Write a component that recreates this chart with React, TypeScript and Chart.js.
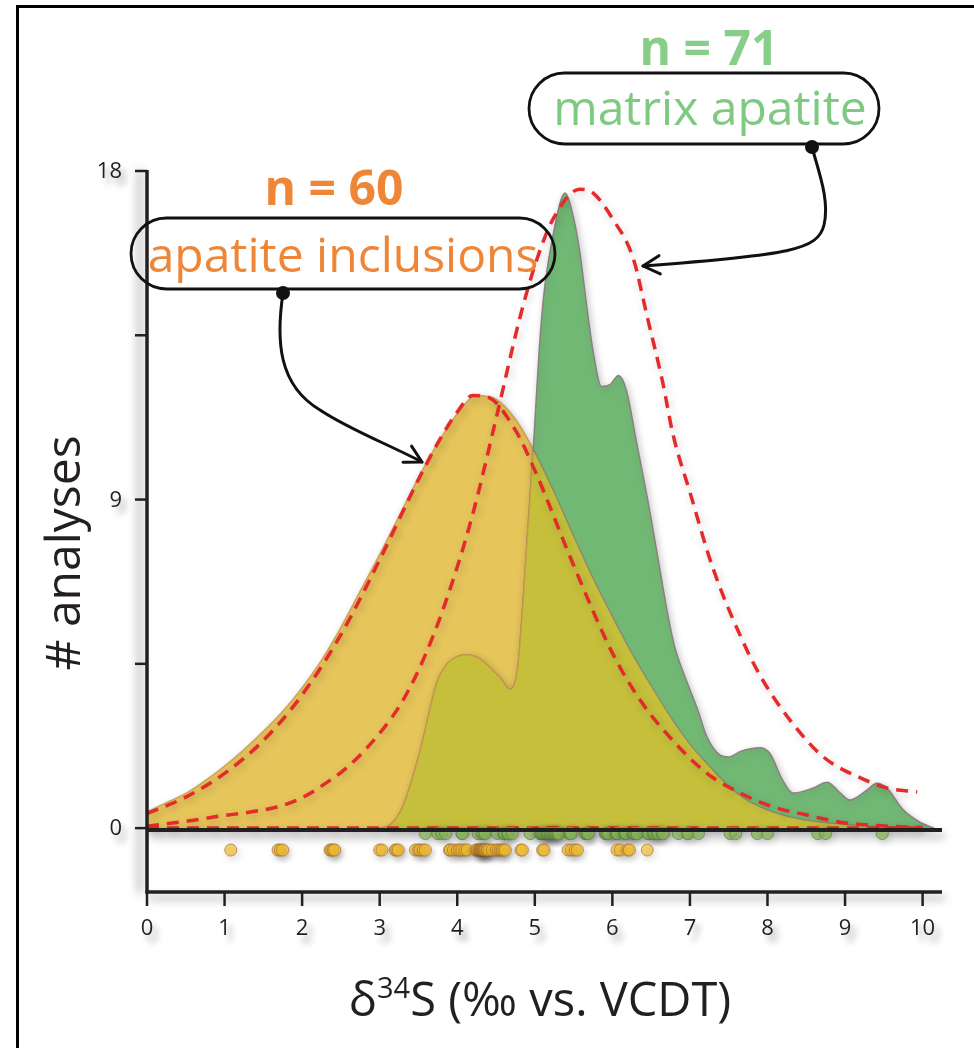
import React, { useEffect, useRef } from 'react';
import { Chart, registerables } from 'chart.js';

Chart.register(...registerables);

const W = 974;
const H = 1048;
const FONT = '"Open Sans", "Noto Sans", sans-serif';
const INK = '#231f20';
const RED = '#e42a2a';
const YELLOW = '#e6c55b';
const GREEN = '#72b875';
const OLIVE = '#c5bf3c';
const ORANGE = '#ef8536';
const LIGHT_GREEN = '#88cd88';

// axis ranges
const X_MIN = 0;
const X_MAX = 10.25;
const Y_MIN = -1.75;
const Y_MAX = 18;
const xTicks = [0, 1, 2, 3, 4, 5, 6, 7, 8, 9, 10];
const xTickLabels = ['0', '1', '2', '3', '4', '5', '6', '7', '8', '9', '10'];
const yTicks = [0, 4.5, 9, 13.5, 18];
const yTickLabels = ['0', '', '9', '', '18'];

// kernel density of the apatite inclusions (δ34S, ‰)
const inclusionX = [0, 0.25, 0.5, 0.75, 1, 1.25, 1.5, 1.75, 2, 2.25, 2.5, 2.75, 3, 3.25, 3.5, 3.75, 4, 4.25, 4.5, 4.75, 5, 5.25, 5.5, 5.75, 6, 6.25, 6.5, 6.75, 7, 7.25, 7.5, 7.75, 8, 8.25, 8.5, 8.75, 9, 9.25, 9.5, 9.75, 10];
const inclusionDensity = [0.45, 0.7, 0.95, 1.3, 1.7, 2.15, 2.65, 3.2, 3.85, 4.6, 5.5, 6.5, 7.5, 8.55, 9.6, 10.55, 11.35, 11.85, 11.75, 11.2, 10.3, 9.2, 8.0, 6.85, 5.8, 4.8, 3.9, 3.05, 2.3, 1.7, 1.15, 0.75, 0.5, 0.33, 0.22, 0.15, 0.1, 0.06, 0.03, 0.01, 0];

// kernel density of the matrix apatite
const matrixX = [3.0, 3.13, 3.3, 3.52, 3.74, 3.87, 4.0, 4.13, 4.28, 4.42, 4.56, 4.68, 4.78, 4.85, 4.92, 4.98, 5.05, 5.11, 5.24, 5.39, 5.48, 5.58, 5.67, 5.75, 5.86, 5.97, 6.08, 6.18, 6.31, 6.49, 6.62, 6.72, 6.8, 6.9, 7.0, 7.1, 7.22, 7.39, 7.5, 7.65, 7.9, 8.03, 8.2, 8.33, 8.59, 8.77, 8.94, 9.06, 9.28, 9.41, 9.54, 9.75, 9.97, 10.15];
const matrixDensity = [0, 0.08, 0.6, 2.1, 4.0, 4.5, 4.7, 4.75, 4.65, 4.4, 4.1, 3.8, 4.4, 6.25, 8.5, 10.4, 12.9, 14.5, 16.3, 17.4, 16.9, 15.8, 14.3, 13.1, 12.1, 12.15, 12.4, 12.0, 10.6, 8.6, 7.0, 5.8, 5.0, 4.35, 3.8, 3.25, 2.5, 2.0, 1.95, 2.1, 2.2, 2.05, 1.3, 0.96, 1.1, 1.26, 0.96, 0.77, 1.04, 1.23, 1.1, 0.5, 0.16, 0];

// fitted distributions (dashed)
const inclusionFitX = [0, 0.5, 1, 1.5, 2, 2.5, 3, 3.5, 3.75, 4, 4.2, 4.4, 4.75, 5, 5.5, 6, 6.36, 6.78, 7.22, 7.65, 8.07, 8.51, 8.94, 9.5, 10];
const inclusionFit = [0.4, 0.85, 1.5, 2.4, 3.65, 5.3, 7.35, 9.55, 10.55, 11.4, 11.85, 11.8, 10.9, 9.8, 7.2, 4.8, 3.5, 2.4, 1.5, 0.96, 0.58, 0.36, 0.16, 0.06, 0.02];
const matrixFitX = [0, 0.55, 0.94, 1.33, 1.68, 1.97, 2.27, 2.6, 3.0, 3.3, 3.6, 3.9, 4.2, 4.51, 4.81, 5.03, 5.24, 5.58, 5.75, 6.0, 6.27, 6.45, 6.65, 6.78, 7.0, 7.3, 7.73, 7.94, 8.29, 8.72, 9.28, 9.54, 9.93];
const matrixFit = [0.05, 0.2, 0.33, 0.44, 0.58, 0.8, 1.18, 1.7, 2.6, 3.5, 4.8, 6.5, 8.6, 11.3, 14.0, 15.6, 16.7, 17.5, 17.4, 16.7, 15.6, 14.0, 12.2, 10.8, 9.2, 7.1, 4.9, 4.05, 2.96, 1.95, 1.3, 1.1, 0.99];

// individual analyses (δ34S, ‰)
const inclusionAnalyses = [1.08, 1.69, 1.72, 1.75, 2.36, 2.38, 2.4, 2.42, 3.0, 3.03, 3.2, 3.22, 3.24, 3.46, 3.5, 3.52, 3.56, 3.59, 3.9, 3.91, 3.95, 4.0, 4.03, 4.06, 4.1, 4.13, 4.24, 4.26, 4.28, 4.3, 4.3, 4.31, 4.32, 4.33, 4.34, 4.35, 4.36, 4.38, 4.39, 4.41, 4.45, 4.5, 4.53, 4.56, 4.58, 4.6, 4.62, 4.82, 4.84, 5.1, 5.12, 5.43, 5.47, 5.52, 5.55, 6.06, 6.1, 6.2, 6.22, 6.45];
const matrixAnalyses = [3.59, 3.75, 3.8, 3.85, 4.06, 4.07, 4.27, 4.32, 4.35, 4.36, 4.52, 4.6, 4.61, 4.65, 4.66, 4.71, 4.94, 5.07, 5.08, 5.1, 5.12, 5.15, 5.16, 5.18, 5.2, 5.22, 5.24, 5.26, 5.28, 5.3, 5.31, 5.45, 5.46, 5.47, 5.65, 5.66, 5.68, 5.69, 5.91, 5.92, 5.94, 5.95, 6.05, 6.06, 6.07, 6.16, 6.17, 6.18, 6.27, 6.28, 6.31, 6.32, 6.46, 6.47, 6.53, 6.54, 6.58, 6.59, 6.65, 6.66, 6.85, 6.97, 6.98, 7.11, 7.52, 7.59, 7.87, 8.0, 8.65, 8.75, 9.48];

// rug rows below the zero line
const MATRIX_ROW = -0.15;
const INCLUSION_ROW = -0.6;

const YELLOW_IDX = 0;
const GREEN_IDX = 1;

const pts = (xs: number[], ys: number[]) => xs.map((x, i) => ({ x, y: ys[i] }));

function areaPath(ctx: CanvasRenderingContext2D, line: any, y0: number) {
  const p = line.points;
  ctx.beginPath();
  if (typeof line.path === 'function') {
    line.path(ctx);
  } else {
    p.forEach((q: any, i: number) => (i ? ctx.lineTo(q.x, q.y) : ctx.moveTo(q.x, q.y)));
  }
  ctx.lineTo(p[p.length - 1].x, y0);
  ctx.lineTo(p[0].x, y0);
  ctx.closePath();
}

function linePath(ctx: CanvasRenderingContext2D, line: any) {
  ctx.beginPath();
  if (typeof line.path === 'function') line.path(ctx);
}

function shadowed(ctx: CanvasRenderingContext2D, color: string, blur: number, ox: number, oy: number, draw: () => void) {
  ctx.save();
  ctx.shadowColor = color;
  ctx.shadowBlur = blur;
  ctx.shadowOffsetX = ox;
  ctx.shadowOffsetY = oy;
  draw();
  ctx.restore();
}

function seg(ctx: CanvasRenderingContext2D, x1: number, y1: number, x2: number, y2: number, w: number) {
  ctx.lineWidth = w;
  ctx.beginPath();
  ctx.moveTo(x1, y1);
  ctx.lineTo(x2, y2);
  ctx.stroke();
}

function pill(ctx: CanvasRenderingContext2D, x: number, y: number, w: number, h: number) {
  const r = h / 2;
  ctx.beginPath();
  ctx.moveTo(x + r, y);
  ctx.lineTo(x + w - r, y);
  ctx.arc(x + w - r, y + r, r, -Math.PI / 2, Math.PI / 2);
  ctx.lineTo(x + r, y + h);
  ctx.arc(x + r, y + r, r, Math.PI / 2, (Math.PI * 3) / 2);
  ctx.closePath();
  ctx.stroke();
}

// leader line: start point followed by cubic bezier triples, ending in an open arrowhead
function leader(ctx: CanvasRenderingContext2D, path: number[][]) {
  const [s, ...rest] = path;
  ctx.lineWidth = 3;
  ctx.lineCap = 'round';
  ctx.lineJoin = 'round';
  ctx.beginPath();
  ctx.moveTo(s[0], s[1]);
  for (let i = 0; i < rest.length; i += 3) {
    ctx.bezierCurveTo(rest[i][0], rest[i][1], rest[i + 1][0], rest[i + 1][1], rest[i + 2][0], rest[i + 2][1]);
  }
  ctx.stroke();
  const e = rest[rest.length - 1];
  const c = rest[rest.length - 2];
  const a = Math.atan2(e[1] - c[1], e[0] - c[0]);
  const L = 19;
  ctx.beginPath();
  ctx.moveTo(e[0] - L * Math.cos(a - 0.5), e[1] - L * Math.sin(a - 0.5));
  ctx.lineTo(e[0], e[1]);
  ctx.lineTo(e[0] - L * Math.cos(a + 0.5), e[1] - L * Math.sin(a + 0.5));
  ctx.stroke();
  ctx.beginPath();
  ctx.arc(s[0], s[1], 7, 0, Math.PI * 2);
  ctx.fill();
}

const overlapPlugin = {
  id: 'overlap',
  beforeDatasetsDraw(chart: any) {
    const ctx = chart.ctx;
    ctx.save();
    ctx.shadowColor = 'rgba(0,0,0,0.22)';
    ctx.shadowBlur = 9;
    ctx.shadowOffsetX = 2;
    ctx.shadowOffsetY = 3;
  },
  afterDatasetsDraw(chart: any) {
    chart.ctx.restore();
  },
  afterDatasetDraw(chart: any, args: any) {
    if (args.index !== GREEN_IDX) return;
    const ctx = chart.ctx;
    const y0 = chart.scales.y.getPixelForValue(0);
    const yl = chart.getDatasetMeta(YELLOW_IDX).dataset;
    const gl = chart.getDatasetMeta(GREEN_IDX).dataset;
    ctx.save();
    ctx.shadowColor = 'rgba(0,0,0,0)';
    ctx.shadowBlur = 0;
    areaPath(ctx, yl, y0);
    ctx.clip();
    areaPath(ctx, gl, y0);
    ctx.fillStyle = OLIVE;
    ctx.fill();
    ctx.strokeStyle = 'rgba(205,150,70,0.75)';
    ctx.lineWidth = 1.4;
    linePath(ctx, gl);
    ctx.stroke();
    ctx.restore();
    ctx.save();
    ctx.shadowColor = 'rgba(0,0,0,0)';
    areaPath(ctx, gl, y0);
    ctx.clip();
    ctx.strokeStyle = 'rgba(140,125,110,0.8)';
    ctx.lineWidth = 1.4;
    linePath(ctx, yl);
    ctx.stroke();
    ctx.restore();
  },
  afterDraw(chart: any) {
    const ctx: CanvasRenderingContext2D = chart.ctx;
    const { left, right, bottom } = chart.chartArea;
    const xs = chart.scales.x;
    const ys = chart.scales.y;
    const yTop = ys.getPixelForValue(Y_MAX);
    const y0 = ys.getPixelForValue(0);

    ctx.save();
    ctx.strokeStyle = INK;
    ctx.fillStyle = INK;
    ctx.lineCap = 'butt';

    // axes
    shadowed(ctx, 'rgba(0,0,0,0.42)', 10, -7, 0, () => seg(ctx, left, yTop - 1, left, bottom + 1.5, 3.5));
    shadowed(ctx, 'rgba(0,0,0,0.35)', 8, 3, 6, () => seg(ctx, left - 1.5, bottom, right, bottom, 3.5));
    shadowed(ctx, 'rgba(0,0,0,0.35)', 8, 3, 6, () => seg(ctx, left, y0 + 2, right, y0 + 2, 4));

    // ticks and labels
    ctx.font = `22px ${FONT}`;
    yTicks.forEach((v, i) => {
      const py = ys.getPixelForValue(v);
      seg(ctx, left - 12, py, left, py, 2.5);
      if (yTickLabels[i]) {
        shadowed(ctx, 'rgba(0,0,0,0.35)', 6, 5, 7, () => {
          ctx.textAlign = 'right';
          ctx.textBaseline = 'middle';
          ctx.fillText(yTickLabels[i], left - 25, py + 1);
        });
      }
    });
    xTicks.forEach((v, i) => {
      const px = xs.getPixelForValue(v);
      seg(ctx, px, bottom, px, bottom + 14, 2.5);
      shadowed(ctx, 'rgba(0,0,0,0.35)', 6, 5, 7, () => {
        ctx.textAlign = 'center';
        ctx.textBaseline = 'alphabetic';
        ctx.fillText(xTickLabels[i], px, bottom + 43);
      });
    });

    // axis titles
    ctx.save();
    ctx.font = `48px ${FONT}`;
    ctx.textAlign = 'center';
    ctx.textBaseline = 'alphabetic';
    ctx.translate(80, 553);
    ctx.rotate(-Math.PI / 2);
    ctx.fillText('# analyses', 0, 0);
    ctx.restore();

    const big = `47px ${FONT}`;
    const small = `29px ${FONT}`;
    const parts: [string, string, number][] = [['δ', big, 0], ['34', small, -18], ['S (‰ vs. VCDT)', big, 0]];
    let total = 0;
    parts.forEach(([t, f]) => { ctx.font = f; total += ctx.measureText(t).width; });
    let cx = 540 - total / 2;
    ctx.textAlign = 'left';
    parts.forEach(([t, f, dy]) => {
      ctx.font = f;
      ctx.fillText(t, cx, 1016 + dy);
      cx += ctx.measureText(t).width;
    });

    // frame
    ctx.strokeStyle = '#000';
    ctx.lineWidth = 3;
    ctx.beginPath();
    ctx.moveTo(17.5, H);
    ctx.lineTo(17.5, 6.5);
    ctx.lineTo(W, 6.5);
    ctx.stroke();

    // labels with counts
    ctx.textAlign = 'center';
    ctx.font = `bold 48px ${FONT}`;
    ctx.fillStyle = LIGHT_GREEN;
    ctx.fillText(`n = ${matrixAnalyses.length}`, 709, 65);
    ctx.fillStyle = ORANGE;
    ctx.fillText(`n = ${inclusionAnalyses.length}`, 334, 205);

    ctx.font = `48px ${FONT}`;
    ctx.fillStyle = '#80c983';
    ctx.fillText('matrix apatite', 710, 125);
    ctx.fillStyle = ORANGE;
    ctx.fillText('apatite inclusions', 343, 272);

    ctx.strokeStyle = '#111';
    ctx.fillStyle = '#111';
    ctx.lineWidth = 2.8;
    pill(ctx, 529, 73, 350, 71);
    pill(ctx, 131, 218, 424, 71);

    leader(ctx, [[812, 147], [818, 170], [830, 200], [824, 225], [818, 250], [790, 255], [643, 266]]);
    leader(ctx, [[283, 293], [276, 340], [278, 385], [320, 410], [350, 430], [390, 445], [422, 462]]);

    ctx.restore();
  },
};

export default function App() {
  const ref = useRef<HTMLCanvasElement>(null);

  useEffect(() => {
    const canvas = ref.current;
    if (!canvas) return;
    const fitStart = Math.min(inclusionFitX[0], matrixFitX[0]);
    const fitEnd = Math.max(inclusionFitX[inclusionFitX.length - 1], matrixFitX[matrixFitX.length - 1]);
    const dashed = {
      borderColor: RED,
      borderWidth: 3.5,
      borderDash: [12, 8],
      fill: false,
      pointRadius: 0,
    };
    const chart = new Chart(canvas, {
      type: 'line',
      data: {
        datasets: [
          {
            label: 'apatite inclusions',
            data: pts(inclusionX, inclusionDensity),
            backgroundColor: YELLOW,
            borderColor: 'rgba(205,150,70,0.8)',
            borderWidth: 1.4,
            fill: 'origin',
            pointRadius: 0,
            cubicInterpolationMode: 'monotone',
            order: 10,
          },
          {
            label: 'matrix apatite',
            data: pts(matrixX, matrixDensity),
            backgroundColor: GREEN,
            borderColor: 'rgba(140,118,125,0.9)',
            borderWidth: 1.4,
            fill: 'origin',
            pointRadius: 0,
            cubicInterpolationMode: 'monotone',
            order: 9,
          },
          { label: 'zero', data: [{ x: fitStart, y: 0 }, { x: fitEnd, y: 0 }], ...dashed, order: 5 },
          { label: 'inclusion fit', data: pts(inclusionFitX, inclusionFit), ...dashed, cubicInterpolationMode: 'monotone', order: 4 },
          { label: 'matrix fit', data: pts(matrixFitX, matrixFit), ...dashed, cubicInterpolationMode: 'monotone', order: 3 },
          {
            label: 'matrix analyses',
            data: matrixAnalyses.map((x) => ({ x, y: MATRIX_ROW })),
            showLine: false,
            pointRadius: 6,
            pointBackgroundColor: 'rgba(160,208,105,0.72)',
            pointBorderColor: 'rgba(110,155,80,0.8)',
            pointBorderWidth: 1,
            order: 2,
          },
          {
            label: 'inclusion analyses',
            data: inclusionAnalyses.map((x) => ({ x, y: INCLUSION_ROW })),
            showLine: false,
            pointRadius: 6,
            pointBackgroundColor: 'rgba(245,192,50,0.7)',
            pointBorderColor: 'rgba(175,120,60,0.75)',
            pointBorderWidth: 1,
            order: 1,
          },
        ],
      },
      options: {
        responsive: false,
        animation: false,
        events: [],
        layout: { padding: { left: 147, top: 171, right: W - 942, bottom: H - 892 } },
        plugins: { legend: { display: false }, tooltip: { enabled: false } },
        scales: {
          x: { type: 'linear', min: X_MIN, max: X_MAX, display: false },
          y: { type: 'linear', min: Y_MIN, max: Y_MAX, display: false },
        },
      },
      plugins: [overlapPlugin],
    } as any);
    return () => chart.destroy();
  }, []);

  return (
    <div style={{ position: 'absolute', left: 0, top: 0, width: W, height: H, background: '#fff' }}>
      <canvas ref={ref} width={W} height={H} style={{ display: 'block', width: W, height: H }} />
    </div>
  );
}
